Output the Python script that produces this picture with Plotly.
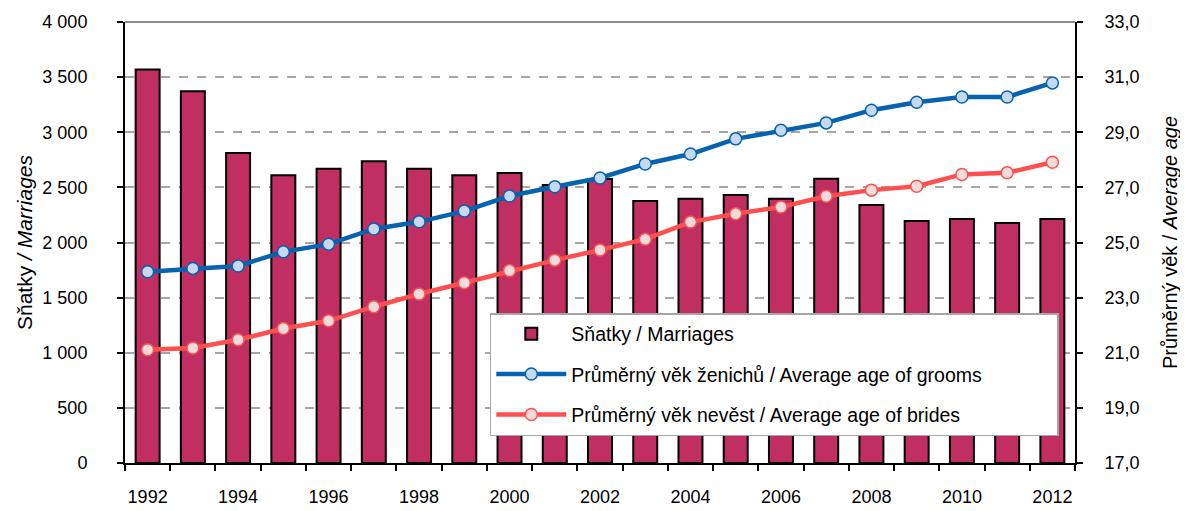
import plotly.graph_objects as go

years = list(range(1992, 2013))
marriages = [3569, 3372, 2811, 2611, 2669, 2738, 2669, 2611, 2630, 2521, 2576,
             2376, 2397, 2430, 2397, 2578, 2340, 2195, 2213, 2177, 2213]
age_grooms = [23.94, 24.06, 24.15, 24.66, 24.94, 25.49, 25.75, 26.14, 26.69, 27.02, 27.34,
              27.85, 28.21, 28.76, 29.07, 29.34, 29.80, 30.09, 30.28, 30.28, 30.79]
age_brides = [21.11, 21.17, 21.47, 21.88, 22.16, 22.67, 23.13, 23.54, 23.98, 24.36, 24.73,
              25.12, 25.74, 26.04, 26.29, 26.68, 26.90, 27.04, 27.47, 27.53, 27.91]
x_labels = years[::2]
left_ticks = list(range(0, 4001, 500))
right_ticks = list(range(17, 34, 2))

FONT = "Arial, Liberation Sans, sans-serif"
PAD = "\u00a0" * 13

fig = go.Figure()
fig.add_trace(go.Bar(
    x=years, y=marriages, name="Sňatky / Marriages" + PAD,
    marker=dict(color="#c02e62", line=dict(color="black", width=2)),
    legendgroup="a", yaxis="y",
))
fig.add_trace(go.Scatter(
    x=years, y=age_grooms, name="Průměrný věk ženichů / Average age of grooms" + PAD,
    mode="lines+markers", yaxis="y2", legendgroup="b",
    line=dict(color="#0563b0", width=4.5),
    marker=dict(size=12, color="#c6d9f1", line=dict(color="#0563b0", width=1.5)),
))
fig.add_trace(go.Scatter(
    x=years, y=age_brides, name="Průměrný věk nevěst / Average age of brides" + PAD,
    mode="lines+markers", yaxis="y2", legendgroup="c",
    line=dict(color="#ff4f4f", width=4.5),
    marker=dict(size=12, color="#f2dcdb", line=dict(color="#ff4f4f", width=1.5)),
))

# page body has an 8px margin: figure is sized/offset to compensate
fig.update_layout(
    width=1180, height=503,
    margin=dict(l=117, r=113, t=14, b=48, autoexpand=False),
    paper_bgcolor="white", plot_bgcolor="white",
    separators=", ",
    font=dict(family=FONT, size=18, color="black"),
    bargap=0.47,
    showlegend=True,
    legend=dict(
        x=0.384, y=0.34, xanchor="left", yanchor="top",
        bgcolor="white", bordercolor="#a6a6a6", borderwidth=1.5,
        font=dict(size=19.5), tracegroupgap=12, itemwidth=70,
        traceorder="grouped",
    ),
    xaxis=dict(
        range=[1991.5, 2012.5], tickmode="array", tickvals=x_labels,
        ticktext=[str(y) for y in x_labels], ticks="", showgrid=False,
        showline=True, linecolor="black", linewidth=2, zeroline=False,
        ticklabelstandoff=16, automargin=False,
        minor=dict(tick0=1991.5, dtick=1, ticks="outside", ticklen=6,
                   tickcolor="black", tickwidth=2, showgrid=False),
    ),
    yaxis=dict(
        range=[0, 4000], tickmode="array", tickvals=left_ticks,
        tickformat=",d", ticks="outside", ticklen=6, tickwidth=2, tickcolor="black",
        showline=True, linecolor="black", linewidth=2,
        showgrid=True, gridcolor="#a6a6a6", griddash="dash", gridwidth=1.5,
        zeroline=False, ticklabelstandoff=26, automargin=False,
        title=dict(text="Sňatky <i>/ Marriages</i>", font=dict(size=21), standoff=4),
    ),
    yaxis2=dict(
        range=[17, 33], tickmode="array", tickvals=right_ticks,
        tickformat=".1f", overlaying="y", side="right",
        ticks="outside", ticklen=6, tickwidth=2, tickcolor="black",
        showline=True, linecolor="black", linewidth=2, showgrid=False,
        zeroline=False, ticklabelstandoff=18, automargin=False,
        title=dict(text="Průměrný věk / <i>Average age</i>", font=dict(size=20), standoff=24),
    ),
    shapes=[dict(type="line", xref="x domain", yref="y domain", x0=0, x1=1, y0=1, y1=1,
                 line=dict(color="#8c8c8c", width=2))],
)

fig.write_html("out.html")
